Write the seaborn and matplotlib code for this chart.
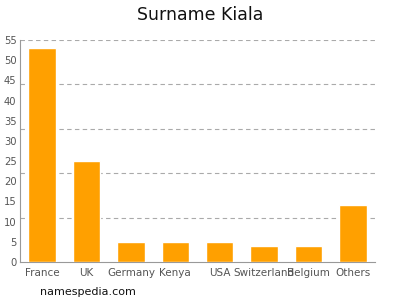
import matplotlib
matplotlib.use("Agg")
import matplotlib.pyplot as plt
import seaborn as sns
import pandas as pd
import numpy as np

countries = ["France", "UK", "Germany", "Kenya", "USA", "Switzerland", "Belgium", "Others"]
counts = [53, 25, 5, 5, 5, 4, 4, 14]
yticks = list(range(0, 56, 5))
gridlevels = [11, 22, 33, 44, 55]

sns.set_style("white")
plt.rcParams['font.family'] = ['DejaVu Sans']

fig = plt.figure(figsize=(4, 3), dpi=100)
ax = fig.add_axes([0.05, 0.1267, 0.8875, 0.74])

df = pd.DataFrame({"country": countries, "count": counts})
sns.barplot(data=df, x="country", y="count", color="#FFA000", saturation=1,
            width=0.62, ax=ax, zorder=3)

ax.set_xlim(-0.5, 7.5)
ax.set_ylim(0, 55)
ax.set_yticks(yticks)
for g in gridlevels:
    ax.axhline(g, color="#aaaaaa", linestyle=(0, (4, 3)), linewidth=0.8, zorder=1)

ax.set_xlabel("")
ax.set_ylabel("")
for s in ["top", "right"]:
    ax.spines[s].set_visible(False)
for s in ["left", "bottom"]:
    ax.spines[s].set_color("#999999")
    ax.spines[s].set_linewidth(0.8)
ax.tick_params(axis="x", colors="#999999", labelcolor="#555555", labelsize=7.5,
               length=3, width=0.8, pad=1.5, direction="out")
ax.tick_params(axis="y", colors="#999999", labelcolor="#555555", labelsize=7.2,
               length=2, width=0.8, pad=0.5, direction="out")

fig.text(0.5, 0.95, "Surname Kiala", ha="center", va="center", fontsize=12.5, color="#111111")
fig.text(0.1, 0.028, "namespedia.com", ha="left", va="center", fontsize=8, color="#111111")

fig.savefig("out.png", dpi=100)
